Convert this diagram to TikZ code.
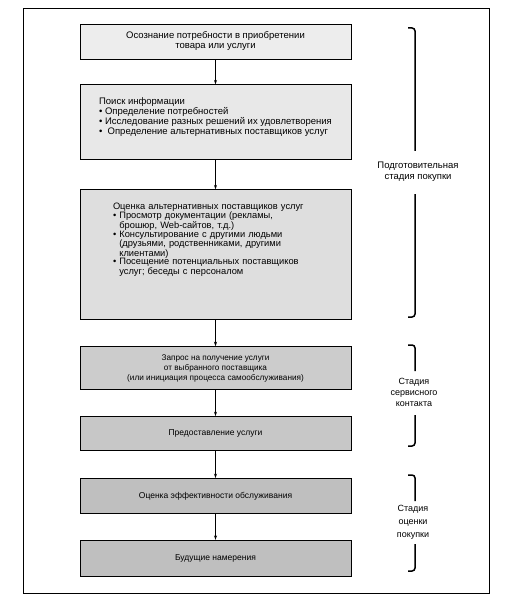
\documentclass[tikz,border=0pt]{standalone}
\usepackage{fontspec}
\setmainfont{Liberation Sans}
\usetikzlibrary{positioning,arrows.meta}
\tikzset{
  every node/.style={font=\fontsize{9.5}{10}\selectfont},
  box/.style={
    draw=black, line width=0.9pt, fill=#1,
    minimum width=271pt, inner sep=0pt, align=center
  },
  listbox/.style={
    draw=black, line width=0.9pt, fill=#1,
    inner ysep=0pt, align=left
  },
  stage/.style={align=center, font=\fontsize{9}{11}\selectfont},
  arr/.style={-{Stealth[length=4.5pt,width=3pt]}, line width=0.7pt},
  brace/.style={line width=1.5pt, rounded corners=3pt}
}

\begin{document}
\begin{tikzpicture}[x=1pt, y=1pt]
\useasboundingbox (0,0) rectangle (515,-604);

% outer frame
\draw[line width=0.8pt] (23,-8) rectangle (489,-593);

\node[box=gray!14, minimum height=35pt] (need) at (215.5,-41.5)
  {Осознание потребности в приобретении\\товара или услуги};

\node[listbox=gray!18, below=25pt of need, minimum width=271pt, inner xsep=0pt,
  minimum height=75pt] (search) {%
  Поиск информации\\
  • Определение потребностей\\
  • Исследование разных решений их удовлетворения\\
  • \ Определение альтернативных поставщиков услуг\\[2pt]\mbox{}};

\node[listbox=gray!26, below=29pt of search, text width=205pt, inner xsep=33pt,
  minimum height=130pt, font=\fontsize{9.3}{8.4}\selectfont] (choose) {%
  Оценка альтернативных поставщиков услуг\\
  • Просмотр документации (рекламы,\\
  \phantom{• }брошюр, Web-сайтов, т.д.)\\
  • Консультирование с другими людьми\\
  \phantom{• }(друзьями, родственниками, другими\\
  \phantom{• }клиентами)\\
  • Посещение потенциальных поставщиков\\
  \phantom{• }услуг; беседы с персоналом\\[24pt]\mbox{}};

\node[box=gray!40, below=26pt of choose, minimum height=43pt,
  font=\fontsize{8.2}{10}\selectfont] (request)
  {Запрос на получение услуги\\от выбранного поставщика\\(или инициация процесса самообслуживания)};

\node[box=gray!44, below=26pt of request, minimum height=34pt,
  font=\fontsize{8.5}{10}\selectfont] (deliver) {Предоставление услуги};

\node[box=gray!50, below=27pt of deliver, minimum height=35pt,
  font=\fontsize{8.5}{10}\selectfont] (rate) {Оценка эффективности обслуживания};

\node[box=gray!50, below=26pt of rate, minimum height=36pt,
  font=\fontsize{8.5}{10}\selectfont] (future) {Будущие намерения};

\draw[arr] (need) -- (search);
\draw[arr] (search) -- (choose);
\draw[arr] (choose) -- (request);
\draw[arr] (request) -- (deliver);
\draw[arr] (deliver) -- (rate);
\draw[arr] (rate) -- (future);

% stages
\node[stage, font=\fontsize{9.5}{11}\selectfont] (prep) at (418,-171.5)
  {Подготовительная\\стадия покупки};
\draw[brace] (408,-28) -- (415,-28) -- (415,-151);
\draw[brace] (415,-194) -- (415,-317) -- (408,-317);

\node[stage] (contact) at (414,-392) {Стадия\\сервисного\\контакта};
\draw[brace] (408,-345) -- (415,-345) -- (415,-371);
\draw[brace] (415,-415) -- (415,-446) -- (408,-446);

\node[stage, font=\fontsize{9}{13}\selectfont] (after) at (413,-522)
  {Стадия\\оценки\\покупки};
\draw[brace] (408,-475) -- (415,-475) -- (415,-501);
\draw[brace] (415,-544) -- (415,-571) -- (408,-571);

\end{tikzpicture}
\end{document}
